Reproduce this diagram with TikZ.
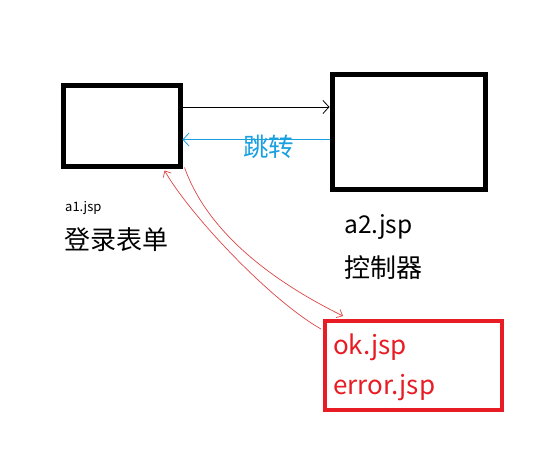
\documentclass[tikz,border=0pt]{standalone}
\usepackage{fontspec}
\setmainfont{Noto Sans CJK SC}
\usetikzlibrary{arrows.meta,calc}
\definecolor{jblue}{RGB}{25,160,225}
\definecolor{jred}{RGB}{232,28,36}
\definecolor{jcurve}{RGB}{220,70,70}
\tikzset{
  page box/.style={draw=black,line width=5pt,inner sep=0pt},
  red box/.style={draw=jred,line width=4pt,inner sep=0pt},
  lbl/.style={anchor=west,inner sep=0pt,font=\fontsize{24.5}{28}\selectfont},
  big lbl/.style={anchor=west,inner sep=0pt,font=\fontsize{26}{30}\selectfont},
  small lbl/.style={anchor=west,inner sep=0pt,font=\fontsize{13}{15}\selectfont},
  barb/.style={-{Straight Barb[length=6pt,width=13pt]}},
  curve/.style={draw=jcurve,line width=0.7pt,-{Straight Barb[length=5pt,width=9pt]}}
}
\begin{document}
\begin{tikzpicture}[x=1pt,y=-1pt]
\fill[white] (0,0) rectangle (553,448);
\useasboundingbox (0,0) rectangle (553,448);
\node[page box,minimum width=117pt,minimum height=81pt] (b1) at (121.5,125.5) {};
\node[page box,minimum width=153pt,minimum height=115pt] (b2) at (408.5,131.5) {};
\node[red box,minimum width=177pt,minimum height=89pt] (r) at (413.5,365.5) {};
\draw[barb,line width=0.8pt] ([yshift=18.5pt]b1.east) -- ([yshift=18.5pt]b1.east -| b2.west);
\draw[barb,jblue,line width=0.8pt] ([yshift=-14pt]b1.east -| b2.west) -- ([yshift=-14pt]b1.east);
\node[anchor=west,inner sep=0pt,font=\fontsize{25.5}{28}\selectfont,jblue] (jump) at (243,147) {跳转};
\node[small lbl] (a1) at (65,208) {a1.jsp};
\node[big lbl] (login) at (64,240) {登录表单};
\node[lbl] (a2) at (344,227) {a2.jsp};
\node[big lbl] (ctrl) at (344,268) {控制器};
\node[big lbl,jred] (ok) at (333,347) {ok.jsp};
\node[big lbl,jred] (err) at (333,388) {error.jsp};
\draw[curve] ([xshift=2pt,yshift=1pt]b1.south east) .. controls (205,225) and (260,275) .. ([xshift=20pt,yshift=3pt]r.north west);
\draw[curve] ([xshift=-2pt,yshift=-10pt]r.north west) .. controls (270,300) and (190,215) .. ([xshift=-18pt,yshift=-2pt]b1.south east);
\end{tikzpicture}
\end{document}
